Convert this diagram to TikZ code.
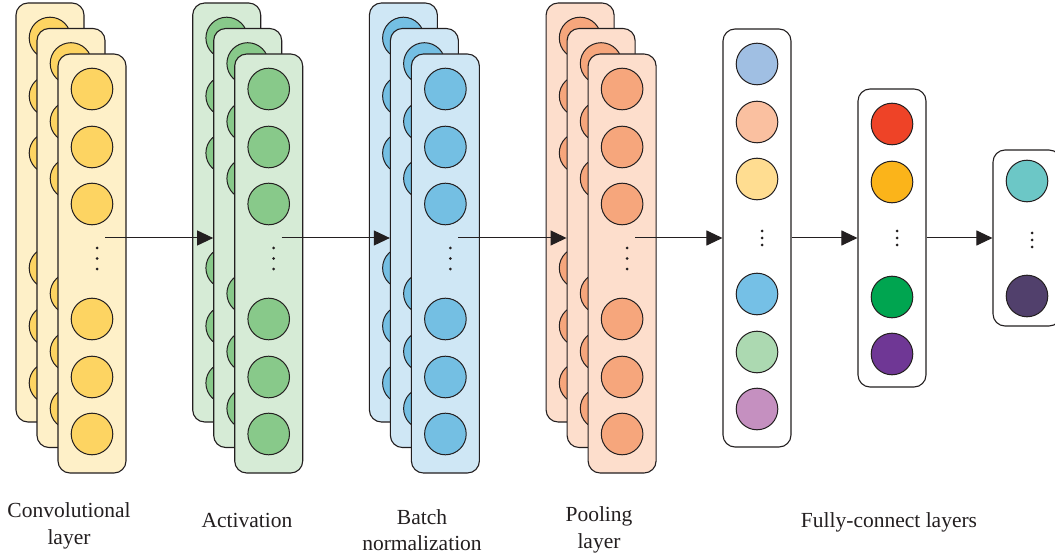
\documentclass[tikz,border=0pt]{standalone}
\usepackage{fontspec}
\setmainfont{Liberation Serif}
\usetikzlibrary{arrows.meta}
\definecolor{ln}{HTML}{231F20}
\definecolor{convP}{HTML}{FEF0C8}
\definecolor{convC}{HTML}{FDD462}
\definecolor{actP}{HTML}{D6EBD6}
\definecolor{actC}{HTML}{88C98A}
\definecolor{bnP}{HTML}{CFE7F5}
\definecolor{bnC}{HTML}{74BFE3}
\definecolor{poolP}{HTML}{FDDECC}
\definecolor{poolC}{HTML}{F6A67C}
\definecolor{fa}{HTML}{A0BFE3}
\definecolor{fb}{HTML}{FAC0A0}
\definecolor{fc}{HTML}{FFDD91}
\definecolor{fd}{HTML}{75C0E6}
\definecolor{fe}{HTML}{ACD9B1}
\definecolor{ff}{HTML}{C590C0}
\definecolor{ga}{HTML}{EE4327}
\definecolor{gb}{HTML}{FBB41A}
\definecolor{gc}{HTML}{00A550}
\definecolor{gd}{HTML}{6F3795}
\definecolor{ha}{HTML}{6CC7C6}
\definecolor{hb}{HTML}{51406C}
\tikzset{
  panel/.style={draw=ln, line width=1.1pt, rounded corners=12pt, minimum width=68pt, minimum height=#1, inner sep=0pt},
  neuron/.style={circle, draw=ln, line width=1pt, minimum size=41.6pt, inner sep=0pt},
  dotc/.style={circle, fill=ln, minimum size=3pt, inner sep=0pt},
  flow/.style={draw=ln, line width=1pt, -{Triangle[length=16pt,width=15pt]}},
  lbl/.style={font=\fontsize{21.5}{26.5}\selectfont, align=center, inner sep=0pt, text=ln}
}
\begin{document}
\begin{tikzpicture}[x=1pt,y=-1pt]
\useasboundingbox (0,0) rectangle (1055,556);
\fill[white] (0,0) rectangle (1055,556);
% stacked feature groups
\foreach \g/\pf/\cf [count=\i from 0] in {conv/convP/convC, act/actP/actC, bn/bnP/bnC, pool/poolP/poolC} {
  \foreach \k in {0,1,2} {
    \pgfmathsetmacro\L{16+176.7*\i+21*\k}
    \pgfmathsetmacro\T{3+25.5*\k}
    \node[panel=419pt, fill=\pf] (\g-\k) at (\L+34, \T+209.5) {};
    \foreach \dy [count=\j] in {35,93,150,265,323,380}
      \node[neuron, fill=\cf] (\g-\k-\j) at (\L+34, \T+\dy) {};
  }
  \pgfmathsetmacro\F{16+176.7*\i+42}
  \foreach \dy [count=\j] in {248,258.5,269}
    \node[dotc] (\g-d\j) at (\F+39, \dy) {};
  \coordinate (\g-s) at (\F+47, 238);
}
% fully connected layers
\node[panel=418pt, fill=white] (fc1) at (757,238) {};
\foreach \cy/\cc [count=\j] in {64/fa,122/fb,179/fc,294/fd,352/fe,409/ff}
  \node[neuron, fill=\cc] (fc1-\j) at (757,\cy) {};
\foreach \dy [count=\j] in {231,238,245}
  \node[dotc] (fc1-d\j) at (762,\dy) {};
\node[panel=298pt, fill=white] (fc2) at (892,238) {};
\foreach \cy/\cc [count=\j] in {124/ga,182/gb,297/gc,354/gd}
  \node[neuron, fill=\cc] (fc2-\j) at (892,\cy) {};
\foreach \dy [count=\j] in {231,238,245}
  \node[dotc] (fc2-d\j) at (897,\dy) {};
\node[panel=176pt, fill=white] (fc3) at (1027,238) {};
\foreach \cy/\cc [count=\j] in {181/ha,296/hb}
  \node[neuron, fill=\cc] (fc3-\j) at (1027,\cy) {};
\foreach \dy [count=\j] in {233,240,247}
  \node[dotc] (fc3-d\j) at (1032,\dy) {};
% connectors
\draw[flow] (conv-s) -- (act-1.west);
\draw[flow] (act-s) -- (bn-1.west);
\draw[flow] (bn-s) -- (pool-1.west);
\draw[flow] (pool-s) -- (fc1.west);
\draw[flow] (fc1.east) -- (fc2.west);
\draw[flow] (fc2.east) -- (fc3.west);
% labels
\node[lbl] (t-conv) at (69,526) {Convolutional\\layer};
\node[lbl, anchor=base] (t-act) at (247,527) {Activation};
\node[lbl] (t-bn) at (422,530) {Batch\\normalization};
\node[lbl] (t-pool) at (599,530) {Pooling\\layer};
\node[lbl, anchor=base] (t-fc) at (889,527) {Fully-connect layers};
\end{tikzpicture}
\end{document}
